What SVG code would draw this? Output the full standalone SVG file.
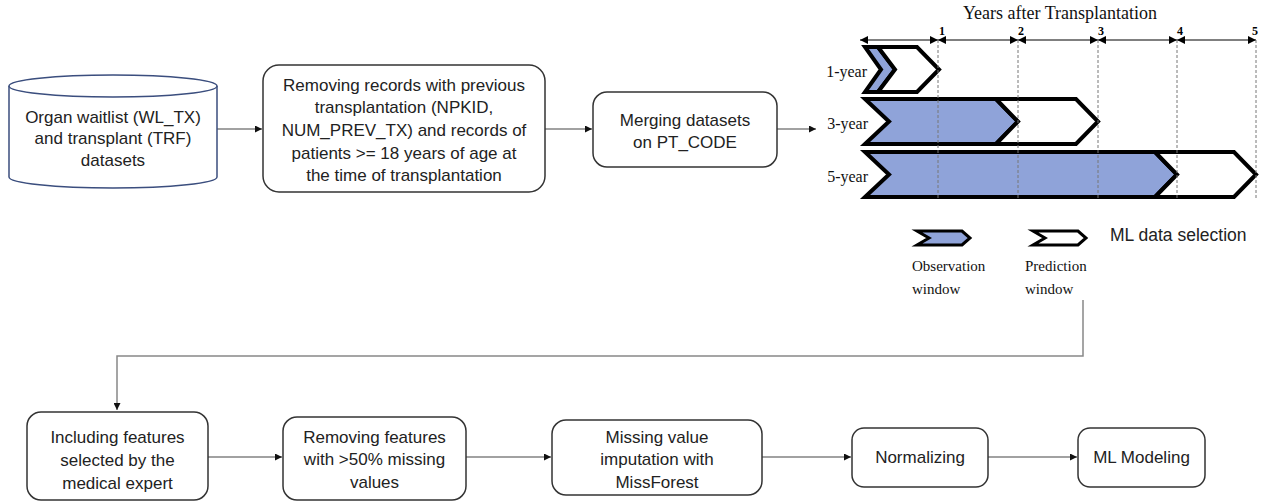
<svg xmlns="http://www.w3.org/2000/svg" width="1263" height="503" viewBox="0 0 1263 503">
<style>
.sans{font-family:"Liberation Sans",Arial,sans-serif;font-size:17px;fill:#222;text-anchor:middle}
.serif{font-family:"Liberation Serif","Times New Roman",serif;fill:#111}
.box{fill:#fff;stroke:#333;stroke-width:1.5}
.conn{fill:none;stroke:#444;stroke-width:1.2}
.feed{fill:none;stroke:#888;stroke-width:1.5}
.obs{fill:#8FA3D9;stroke:#000;stroke-width:4;stroke-linejoin:miter}
.pred{fill:#fff;stroke:#000;stroke-width:4;stroke-linejoin:miter}
.lobs{fill:#8FA3D9;stroke:#000;stroke-width:3}
.lpred{fill:#fff;stroke:#000;stroke-width:3}
.dash{stroke:#777;stroke-width:1;stroke-dasharray:3,2}
.axis{stroke:#000;stroke-width:1;marker-start:url(#ax);marker-end:url(#ax)}
.tick{font-family:"Liberation Serif","Times New Roman",serif;font-size:12px;font-weight:bold;fill:#000;text-anchor:middle}
</style>
<defs>
<marker id="arr" viewBox="0 0 10 10" refX="10" refY="5" markerWidth="8" markerHeight="7" markerUnits="userSpaceOnUse" orient="auto"><path d="M0,0 L10,5 L0,10 z" fill="#111"/></marker>
<marker id="ax" viewBox="0 0 10 10" refX="10" refY="5" markerWidth="9" markerHeight="8" markerUnits="userSpaceOnUse" orient="auto-start-reverse"><path d="M0,0 L10,5 L0,10 z" fill="#000"/></marker>
</defs>

<g id="connectors">
<line class="conn" x1="217" y1="129" x2="262" y2="129" marker-end="url(#arr)"/>
<line class="conn" x1="545" y1="129" x2="592" y2="129" marker-end="url(#arr)"/>
<line class="conn" x1="777" y1="129" x2="816" y2="129" marker-end="url(#arr)"/>
<polyline class="feed" points="1083,300 1083,356 117,356 117,410" marker-end="url(#arr)"/>
<line class="conn" x1="208" y1="457" x2="282" y2="457" marker-end="url(#arr)"/>
<line class="conn" x1="466" y1="457" x2="551" y2="457" marker-end="url(#arr)"/>
<line class="conn" x1="762" y1="457" x2="851" y2="457" marker-end="url(#arr)"/>
<line class="conn" x1="988" y1="457" x2="1077" y2="457" marker-end="url(#arr)"/>
</g>

<g id="organ-datasets">
<path d="M9,86 L9,177 A104,11 0 0 0 217,177 L217,86" fill="#fff" stroke="#3B4E7E" stroke-width="1.5"/>
<ellipse cx="113" cy="86" rx="104" ry="11" fill="#fff" stroke="#3B4E7E" stroke-width="1.5"/>
<text class="sans" x="113" y="123">Organ waitlist (WL_TX)</text>
<text class="sans" x="113" y="144">and transplant (TRF)</text>
<text class="sans" x="113" y="166">datasets</text>
</g>

<g id="removing-records">
<rect class="box" x="263" y="65" width="282" height="127" rx="16"/>
<text class="sans" x="404" y="91">Removing records with previous</text>
<text class="sans" x="404" y="113">transplantation (NPKID,</text>
<text class="sans" x="404" y="136">NUM_PREV_TX) and records of</text>
<text class="sans" x="404" y="159">patients &gt;= 18 years of age at</text>
<text class="sans" x="404" y="181">the time of transplantation</text>
</g>

<g id="merging">
<rect class="box" x="593" y="92" width="184" height="75" rx="14"/>
<text class="sans" x="685" y="126">Merging datasets</text>
<text class="sans" x="685" y="148">on PT_CODE</text>
</g>

<g id="ml-data-selection">
<text class="serif" x="1060" y="19" font-size="18" text-anchor="middle">Years after Transplantation</text>
<line class="axis" x1="860" y1="40" x2="938" y2="40"/>
<line class="axis" x1="938" y1="40" x2="1018" y2="40"/>
<line class="axis" x1="1018" y1="40" x2="1098" y2="40"/>
<line class="axis" x1="1098" y1="40" x2="1177" y2="40"/>
<line class="axis" x1="1177" y1="40" x2="1256" y2="40"/>
<text class="tick" x="942" y="35">1</text>
<text class="tick" x="1021" y="35">2</text>
<text class="tick" x="1101" y="35">3</text>
<text class="tick" x="1180" y="35">4</text>
<text class="tick" x="1255" y="35">5</text>

<polygon class="obs" points="865,47 878,47 895,69.5 878,92 865,92 881,69.5"/>
<polygon class="pred" points="878,47 917,47 939,69.5 917,92 878,92 895,69.5"/>
<polygon class="obs" points="865,99 996,99 1018,121.5 996,144 865,144 889,121.5"/>
<polygon class="pred" points="996,99 1076,99 1098,121.5 1076,144 996,144 1018,121.5"/>
<polygon class="obs" points="865,152 1155,152 1177,174.5 1155,197 865,197 889,174.5"/>
<polygon class="pred" points="1155,152 1234,152 1256,174.5 1234,197 1155,197 1177,174.5"/>

<line class="dash" x1="938" y1="40" x2="938" y2="199"/>
<line class="dash" x1="1018" y1="40" x2="1018" y2="199"/>
<line class="dash" x1="1098" y1="40" x2="1098" y2="199"/>
<line class="dash" x1="1177" y1="40" x2="1177" y2="199"/>
<line class="dash" x1="1256" y1="40" x2="1256" y2="199"/>

<text class="serif" x="867" y="77" font-size="16" text-anchor="end">1-year</text>
<text class="serif" x="868" y="129" font-size="16" text-anchor="end">3-year</text>
<text class="serif" x="868" y="182" font-size="16" text-anchor="end">5-year</text>

<polygon class="lobs" points="917,231 962,231 970,238 962,245 917,245 929,238"/>
<polygon class="lpred" points="1033,231 1078,231 1086,238 1078,245 1033,245 1045,238"/>
<text x="1110" y="241" font-family="Liberation Sans, Arial, sans-serif" font-size="17.5" fill="#222">ML data selection</text>
<text class="serif" x="912" y="271" font-size="15">Observation</text>
<text class="serif" x="912" y="294" font-size="15">window</text>
<text class="serif" x="1025" y="271" font-size="15">Prediction</text>
<text class="serif" x="1025" y="294" font-size="15">window</text>
</g>

<g id="including-features">
<rect class="box" x="27" y="412" width="181" height="88" rx="14"/>
<text class="sans" x="117.5" y="443">Including features</text>
<text class="sans" x="117.5" y="466">selected by the</text>
<text class="sans" x="117.5" y="489">medical expert</text>
</g>

<g id="removing-features">
<rect class="box" x="283" y="417" width="183" height="83" rx="14"/>
<text class="sans" x="374.5" y="443">Removing features</text>
<text class="sans" x="374.5" y="465">with &gt;50% missing</text>
<text class="sans" x="374.5" y="488">values</text>
</g>

<g id="imputation">
<rect class="box" x="552" y="420" width="210" height="75" rx="14"/>
<text class="sans" x="657" y="443">Missing value</text>
<text class="sans" x="657" y="465">imputation with</text>
<text class="sans" x="657" y="488">MissForest</text>
</g>

<g id="normalizing">
<rect class="box" x="852" y="428" width="136" height="59" rx="12"/>
<text class="sans" x="920" y="463">Normalizing</text>
</g>

<g id="ml-modeling">
<rect class="box" x="1078" y="428" width="127" height="59" rx="12"/>
<text class="sans" x="1141.5" y="463">ML Modeling</text>
</g>
</svg>
